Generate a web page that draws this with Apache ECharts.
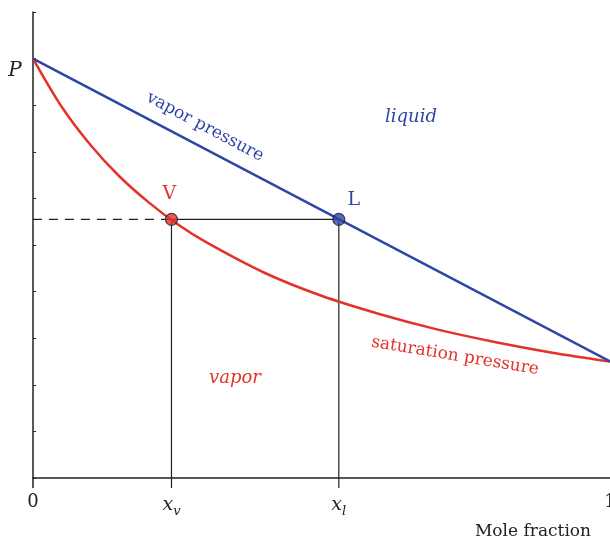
<!DOCTYPE html>
<html>
<head>
<meta charset="utf-8">
<script src="https://cdn.jsdelivr.net/npm/echarts@6/dist/echarts.min.js"></script>
<style>
  html, body { margin: 0; padding: 0; background: #fff; }
  #chart { width: 610px; height: 541px; }
</style>
</head>
<body>
<div id="chart"></div>
<script>
// mole fraction samples
const xSamples = [0, 0.05, 0.1, 0.15, 0.2, 0.25, 0.3, 0.4, 0.5, 0.6, 0.7, 0.8, 0.9, 1];
const satPressure = [9, 7.96, 7.14, 6.47, 5.92, 5.45, 5.06, 4.41, 3.91, 3.52, 3.19, 2.92, 2.69, 2.5];
// vapor pressure is a straight line between the two pure ends
const vaporLine = [[0, 9], [1, 2.5]];
// tie line
const xv = 0.24;
const xl = 0.53;
const tieP = 5.55;
const xTicks = [0, xv, xl, 1];

const blue = '#2e45a6';
const red = '#e2332a';
const ink = '#222';
const serif = '"DejaVu Serif", "Liberation Serif", serif';

const chart = echarts.init(document.getElementById('chart'));

const option = {
  animation: false,
  grid: { left: 33, right: 0, top: 12, bottom: 63, outerBoundsMode: 'none', containLabel: false },
  xAxis: {
    type: 'value',
    min: 0,
    max: 1,
    axisLine: { lineStyle: { color: ink, width: 1.5 } },
    splitLine: { show: false },
    axisTick: { show: false },
    axisLabel: {
      customValues: xTicks,
      margin: 15,
      fontFamily: serif,
      fontSize: 18,
      color: ink,
      hideOverlap: false,
      formatter: v => {
        if (v === 0) return '0';
        if (v === 1) return '1';
        return v === xv ? '{x|x}{s|v}' : '{x|x}{s|l}';
      },
      rich: {
        x: { fontFamily: serif, fontSize: 19, fontStyle: 'italic', color: ink },
        s: { fontFamily: serif, fontSize: 13, fontStyle: 'italic', color: ink, padding: [12, 0, 0, 0] }
      }
    }
  },
  yAxis: {
    type: 'value',
    min: 0,
    max: 10,
    interval: 1,
    axisLine: { show: true, lineStyle: { color: ink, width: 1.5 } },
    axisTick: { show: true, inside: true, length: 3, lineStyle: { color: ink } },
    axisLabel: { show: false },
    splitLine: { show: false }
  },
  series: [
    {
      name: 'tie',
      type: 'line',
      data: [[xv, tieP], [xl, tieP]],
      symbol: 'none',
      lineStyle: { color: ink, width: 1.2 },
      z: 1
    },
    {
      name: 'dash',
      type: 'line',
      data: [[0, tieP], [xv, tieP]],
      symbol: 'none',
      lineStyle: { color: ink, width: 1.2, type: [9, 7] },
      z: 1
    },
    {
      name: 'drop v',
      type: 'line',
      data: [[xv, tieP], [xv, 0]],
      symbol: 'none',
      lineStyle: { color: ink, width: 1.2 },
      z: 1
    },
    {
      name: 'drop l',
      type: 'line',
      data: [[xl, tieP], [xl, 0]],
      symbol: 'none',
      lineStyle: { color: ink, width: 1.2 },
      z: 1
    },
    {
      name: 'saturation pressure',
      type: 'line',
      data: xSamples.map((x, i) => [x, satPressure[i]]),
      smooth: 0.3,
      symbol: 'none',
      lineStyle: { color: red, width: 2.5 },
      z: 2
    },
    {
      name: 'vapor pressure',
      type: 'line',
      data: vaporLine,
      symbol: 'none',
      lineStyle: { color: blue, width: 2.5 },
      z: 3
    },
    {
      name: 'points',
      type: 'scatter',
      symbolSize: 12,
      data: [
        { value: [xv, tieP], itemStyle: { color: red } },
        { value: [xl, tieP], itemStyle: { color: blue } }
      ],
      itemStyle: { borderColor: ink, borderWidth: 1.2 },
      z: 5
    }
  ]
};

chart.setOption(option);

// text annotations anchored to data positions
const px = (x, y) => chart.convertToPixel({ gridIndex: 0 }, [x, y]);
const pP = px(0, 9);
const pV = px(xv, tieP);
const pL = px(xl, tieP);
const pAxisBottom = px(0, 0);

const txt = (x, y, text, color, size, opts) => Object.assign({
  type: 'text',
  x: x,
  y: y,
  style: {
    text: text,
    fill: color,
    font: (opts && opts.italic ? 'italic ' : '') + size + 'px ' + serif,
    align: 'center',
    verticalAlign: 'middle'
  }
}, opts && opts.rotation !== undefined ? { rotation: opts.rotation } : {});

chart.setOption({
  graphic: [
    // small extension of the y axis and the drop lines below the x axis
    {
      type: 'line',
      shape: { x1: pAxisBottom[0], y1: pAxisBottom[1], x2: pAxisBottom[0], y2: pAxisBottom[1] + 10 },
      style: { stroke: ink, lineWidth: 1.5 }
    },
    {
      type: 'line',
      shape: { x1: px(xv, 0)[0], y1: pAxisBottom[1], x2: px(xv, 0)[0], y2: pAxisBottom[1] + 10 },
      style: { stroke: ink, lineWidth: 1.2 }
    },
    {
      type: 'line',
      shape: { x1: px(xl, 0)[0], y1: pAxisBottom[1], x2: px(xl, 0)[0], y2: pAxisBottom[1] + 10 },
      style: { stroke: ink, lineWidth: 1.2 }
    },
    txt(pP[0] - 18, pP[1] + 12, 'P', ink, 20, { italic: true }),
    txt(pV[0] - 2, pV[1] - 25, 'V', red, 19),
    txt(pL[0] + 15, pL[1] - 19, 'L', blue, 19),
    txt(205, 127, 'vapor pressure', blue, 17, { rotation: -0.485 }),
    txt(411, 117, 'liquid', blue, 18, { italic: true }),
    txt(455, 356, 'saturation pressure', red, 17, { rotation: -0.165 }),
    txt(235, 378, 'vapor', red, 18, { italic: true }),
    txt(533, 532, 'Mole fraction', ink, 17)
  ]
});
</script>
</body>
</html>
